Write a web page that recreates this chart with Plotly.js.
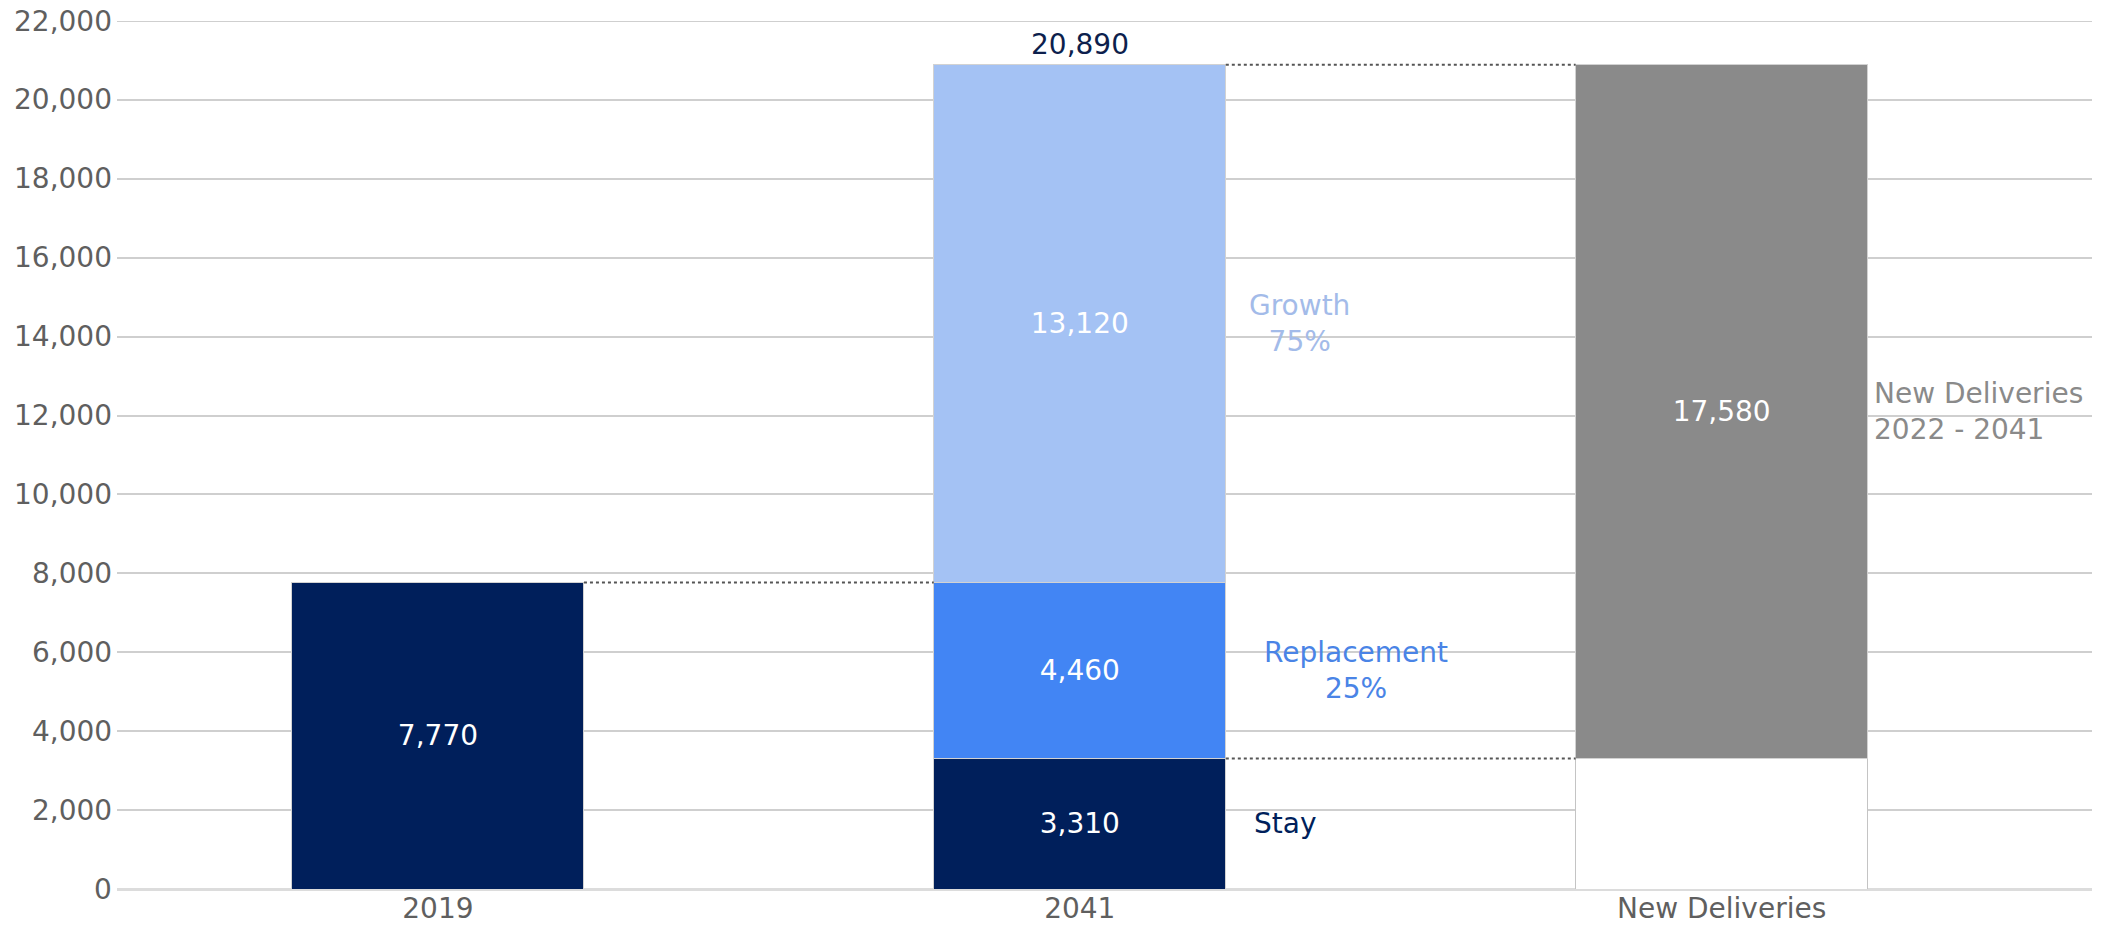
<!DOCTYPE html>
<html>
<head>
<meta charset="utf-8">
<script src="https://cdn.plot.ly/plotly-3.0.1.min.js"></script>
<style>
  html,body{margin:0;padding:0;background:#fff;}
  #chart{width:2106px;height:925px;}
</style>
</head>
<body>
<div id="chart"></div>
<script>
// fleet bridge: 2019 fleet -> 2041 fleet, with new deliveries
const categories = ['2019', '2041', 'New Deliveries'];
const navyVals   = [7770, 3310, null];    // 2019 fleet, 2041 "stay"
const baseVals   = [null, null, 3310];    // invisible base under new deliveries
const replVals   = [null, 4460, null];
const growthVals = [null, 13120, null];
const newVals    = [null, null, 17580];
const totalVals  = [null, 20890, null];
const yTicks     = [0, 2000, 4000, 6000, 8000, 10000, 12000, 14000, 16000, 18000, 20000, 22000];

const FONT = 'DejaVu Sans, Verdana, sans-serif';
const NAVY = '#001f5b', BLUE = '#4285f4', LIGHT = '#a4c2f4', GREY = '#8a8a8a';
const GRID = '#cfcfcf', TICK = '#5f5f5f';
const BARGAP = 0.545, halfW = (1 - BARGAP) / 2;
const edge = {color:'#d2d2d2', width:1};
const fmt = v => v.toLocaleString('en-US');

function barTrace(vals, color, showText, line){
  return {
    type:'bar', x:categories, y:vals,
    marker:{color:color, line:line || edge},
    text: showText ? vals.map(v => v == null ? '' : fmt(v)) : null,
    textposition: showText ? 'inside' : 'none',
    insidetextanchor:'middle',
    textfont:{family:FONT, size:28, color:'#ffffff'},
    hoverinfo:'skip', cliponaxis:false
  };
}

const traces = [
  barTrace(navyVals, NAVY, true),
  barTrace(baseVals, '#ffffff', false, {color:'#c4c4c4', width:1}),
  barTrace(replVals, BLUE, true),
  barTrace(growthVals, LIGHT, true),
  barTrace(newVals, GREY, true)
];

// dotted connectors between bar edges
const dot = {color:'#555555', width:2, dash:'dot'};
const topTick = yTicks[yTicks.length - 1];
const shapes = [
  // top gridline (plotly drops the one sitting on the range edge)
  {type:'line', xref:'paper', yref:'y', x0:0, x1:1, y0:topTick, y1:topTick, layer:'below', line:{color:GRID, width:2}},
  {type:'line', xref:'x', yref:'y', x0:0 + halfW, x1:1 - halfW, y0:navyVals[0], y1:navyVals[0], line:dot},
  {type:'line', xref:'x', yref:'y', x0:1 + halfW, x1:2 - halfW, y0:totalVals[1], y1:totalVals[1], line:dot},
  {type:'line', xref:'x', yref:'y', x0:1 + halfW, x1:2 - halfW, y0:baseVals[2], y1:baseVals[2], line:dot}
];

function side(x, y, text, color, xshift){
  return {xref:'x', yref:'y', x:x, y:y, text:text, showarrow:false,
    xanchor:'left', yanchor:'middle', align:'center', xshift:xshift,
    font:{family:FONT, size:28, color:color}};
}
const stay41 = navyVals[1], repl41 = replVals[1];
const annotations = [
  {xref:'x', yref:'y', x:1, y:totalVals[1], text:fmt(totalVals[1]),
   showarrow:false, yanchor:'bottom', yshift:2, font:{family:FONT, size:28, color:'#0d1f4d'}},
  side(1 + halfW, stay41 / 2, 'Stay', NAVY, 26),
  side(1 + halfW, stay41 + repl41 / 2, 'Replacement<br>25%', '#4a84e6', 36),
  side(1 + halfW, stay41 + repl41 + growthVals[1] / 2, 'Growth<br>75%', '#a3bbe9', 21),
  {xref:'x', yref:'y', x:2 + halfW, y:baseVals[2] + newVals[2] / 2, text:'New Deliveries<br>2022 - 2041',
   showarrow:false, xanchor:'left', yanchor:'middle', align:'left', xshift:4,
   font:{family:FONT, size:28, color:'#8a8a8a'}}
];
// y tick labels placed tight against the gridlines, like the source
yTicks.forEach(v => annotations.push({
  xref:'paper', yref:'y', x:0, y:v, text:fmt(v), showarrow:false,
  xanchor:'right', yanchor:'middle', xshift:-3,
  font:{family:FONT, size:28, color:TICK}
}));

const layout = {
  width:2106, height:925,
  margin:{l:117, r:14, t:21, b:36},
  paper_bgcolor:'#ffffff', plot_bgcolor:'#ffffff',
  barmode:'stack', bargap:BARGAP, showlegend:false,
  font:{family:FONT, size:28, color:TICK},
  xaxis:{type:'category', range:[-0.5, 2.577], showgrid:false, ticks:'', showline:false,
         tickfont:{family:FONT, size:28, color:TICK}, fixedrange:true},
  yaxis:{range:[0, 22000], tickvals:yTicks, showticklabels:false, showgrid:true,
         gridcolor:GRID, gridwidth:2, zeroline:true, zerolinecolor:'#dcdcdc', zerolinewidth:3,
         ticks:'', fixedrange:true},
  shapes:shapes,
  annotations:annotations
};

Plotly.newPlot('chart', traces, layout, {displayModeBar:false, staticPlot:true});
</script>
</body>
</html>
